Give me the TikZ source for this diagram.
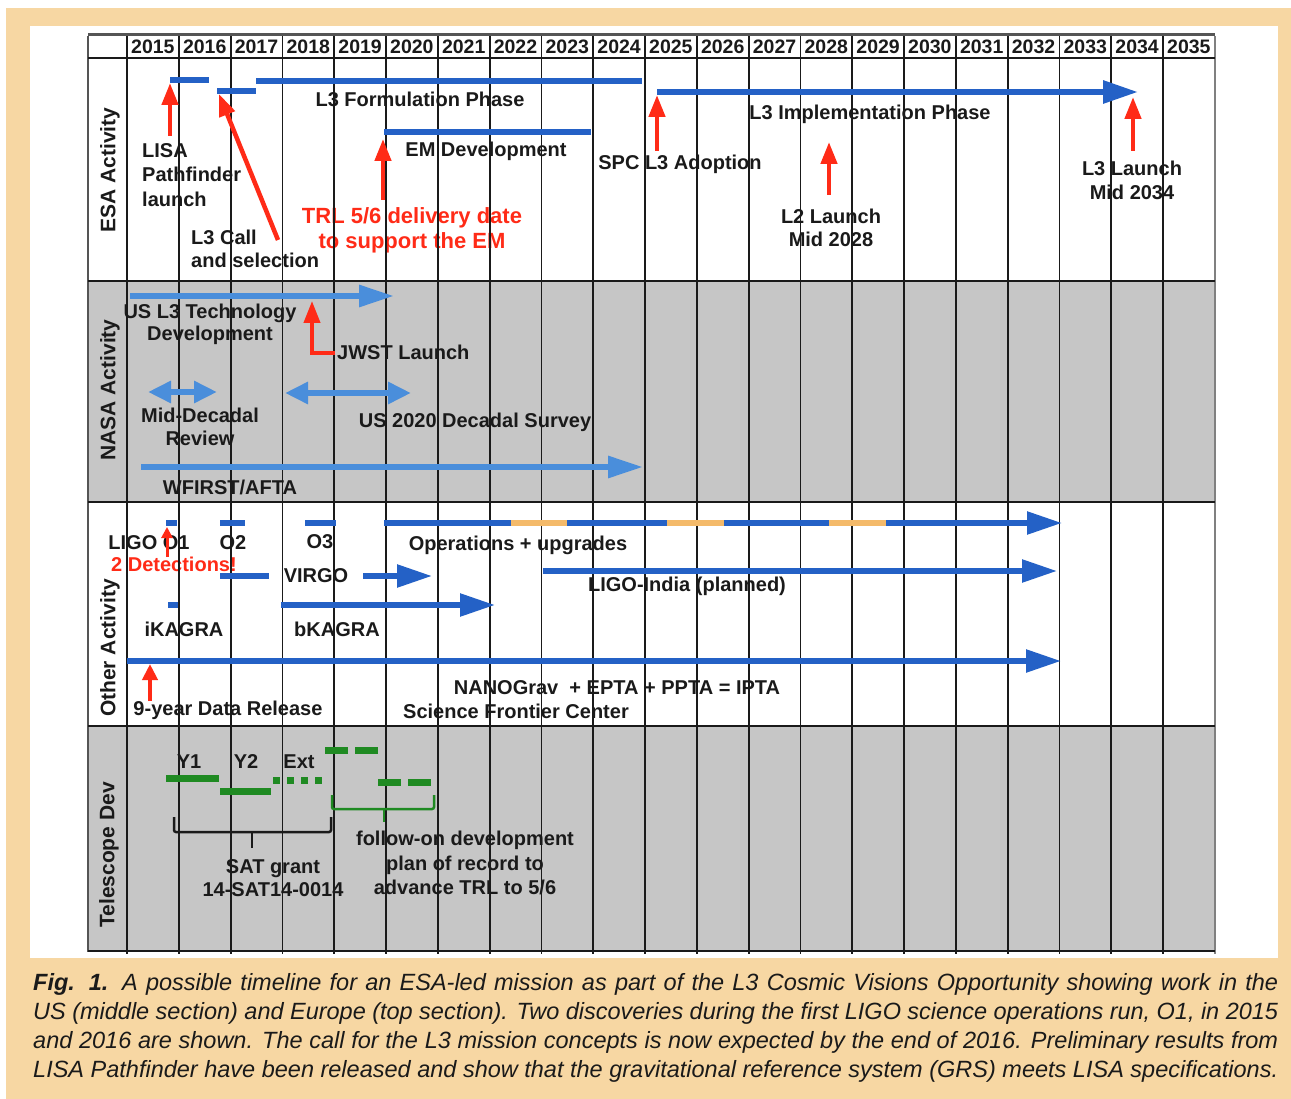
\documentclass[tikz,border=0pt]{standalone}
\usepackage{fontspec}
\setmainfont{Liberation Sans}
\usetikzlibrary{arrows.meta}

\definecolor{peach}{HTML}{F7D7A3}
\definecolor{rowgray}{HTML}{C6C6C6}
\definecolor{esablue}{HTML}{2461C6}
\definecolor{nasablue}{HTML}{4A8EDB}
\definecolor{alertred}{HTML}{FF2B17}
\definecolor{upgrade}{HTML}{F4BA6A}
\definecolor{devgreen}{HTML}{1F8A22}
\definecolor{ink}{HTML}{1A1A1A}
\definecolor{frame}{HTML}{555555}

\begin{document}
\begin{tikzpicture}[x=1pt,y=-1pt,
  lbl/.style={font=\fontsize{20}{24}\selectfont\bfseries, text=ink, inner sep=0pt, align=center},
  redlbl/.style={lbl, text=alertred},
  yearlbl/.style={font=\fontsize{19.5}{22}\selectfont\bfseries, text=ink, inner sep=0pt},
  rowlbl/.style={font=\fontsize{21}{24}\selectfont\bfseries, text=ink, rotate=90, inner sep=0pt},
  gridline/.style={line width=1.8pt, draw=ink},
  rowline/.style={line width=2.4pt, draw=ink},
  bar/.style={line width=5.5pt, draw=esablue},
  bluearrow/.style={bar, -{Triangle[length=35pt,width=22pt]}},
  nbar/.style={line width=6pt, draw=nasablue},
  narrow/.style={nbar, -{Triangle[length=35pt,width=21pt]}},
  ndouble/.style={nbar, {Triangle[length=23pt,width=21pt]}-{Triangle[length=23pt,width=21pt]}},
  redarrow/.style={line width=4.5pt, draw=alertred, -{Triangle[length=22pt,width=16pt]}},
  smallred/.style={line width=3pt, draw=alertred, -{Triangle[length=11pt,width=11pt]}},
  greenbar/.style={line width=7pt, draw=devgreen},
  greendash/.style={greenbar, dash pattern=on 23pt off 7pt},
  greendot/.style={greenbar, dash pattern=on 7pt off 7pt},
  bracket/.style={line width=2.5pt, rounded corners=2pt},
  caption/.style={font=\fontsize{23.5}{29}\selectfont\itshape, text=ink, inner sep=0pt, anchor=base west}
]
\useasboundingbox (0,0) rectangle (1291,1099);

% page and panel
\fill[white] (0,0) rectangle (1291,1099);
\fill[peach] (6,8) rectangle (1291,1099);
\fill[white] (30,26) rectangle (1278,958);

% shaded rows
\fill[rowgray] (88,280) rectangle (1215,502);
\fill[rowgray] (88,726) rectangle (1215,950);

% year header
\foreach \i in {0,...,20} {
  \pgfmathsetmacro\xc{127+51.8*(\i+0.5)}
  \pgfmathtruncatemacro\yr{2015+\i}
  \node[yearlbl] (yr\yr) at (\xc,47) {\yr};
}

% row labels
\node[rowlbl] (esaLbl) at (110,170) {ESA Activity};
\node[rowlbl] (nasaLbl) at (110,390) {NASA Activity};
\node[rowlbl] (otherLbl) at (110,648) {Other Activity};
\node[rowlbl] (teleLbl) at (109,855) {Telescope Dev};

% ESA texts
\node[lbl, align=left, anchor=west, font=\fontsize{20}{24.5}\selectfont\bfseries] (lisaTxt) at (142,175) {LISA\\Pathfinder\\launch};
\node[lbl, align=left, anchor=west, font=\fontsize{20}{23}\selectfont\bfseries] (callTxt) at (191,249) {L3 Call\\and selection};
\node[lbl] (formTxt) at (420,99) {L3 Formulation Phase};
\node[lbl] (emTxt) at (486,151) {EM Development};
\node[redlbl, font=\fontsize{22}{25}\selectfont\bfseries] (trlTxt) at (412,230) {TRL 5/6 delivery date\\to support the EM};
\node[lbl] (spcTxt) at (680,164) {SPC L3 Adoption};
\node[lbl] (implTxt) at (870,114) {L3 Implementation Phase};
\node[lbl, font=\fontsize{20}{23}\selectfont\bfseries] (l2Txt) at (831,228) {L2 Launch\\Mid 2028};
\node[lbl] (l3Txt) at (1132,180) {L3 Launch\\Mid 2034};

% NASA texts
\node[lbl, font=\fontsize{20}{22}\selectfont\bfseries] (usTxt) at (210,324) {US L3 Technology\\Development};
\node[lbl, anchor=west] (jwstTxt) at (337,352) {JWST Launch};
\node[lbl, font=\fontsize{20}{23}\selectfont\bfseries] (midTxt) at (200,427) {Mid-Decadal\\Review};
\node[lbl] (decTxt) at (475,422) {US 2020 Decadal Survey};
\node[lbl] (wfTxt) at (230,487) {WFIRST/AFTA};

% other activity texts
\node[lbl] (ligoTxt) at (149,543) {LIGO O1};
\node[redlbl] (detTxt) at (174,564) {2 Detections!};
\node[lbl] (o2Txt) at (233,543) {O2};
\node[lbl] (o3Txt) at (320,542) {O3};
\node[lbl] (opsTxt) at (518,545) {Operations + upgrades};
\node[lbl] (virgoTxt) at (316,576) {VIRGO};
\node[lbl] (indiaTxt) at (687,586) {LIGO-India (planned)};
\node[lbl] (ikTxt) at (184,629) {iKAGRA};
\node[lbl] (bkTxt) at (337,629) {bKAGRA};
\node[lbl] (nanoTxt) at (617,688) {NANOGrav\ \ + EPTA + PPTA = IPTA};
\node[lbl] (sfcTxt) at (516,711) {Science Frontier Center};
\node[lbl] (nineTxt) at (228,710) {9-year Data Release};

% telescope texts
\node[lbl] (y1Txt) at (189,762) {Y1};
\node[lbl] (y2Txt) at (246,762) {Y2};
\node[lbl] (extTxt) at (299,762) {Ext};
\node[lbl, font=\fontsize{20}{23}\selectfont\bfseries] (satTxt) at (273,878) {SAT grant\\14-SAT14-0014};
\node[lbl, font=\fontsize{20}{24.5}\selectfont\bfseries] (fwdTxt) at (465,863) {follow-on development\\plan of record to\\advance TRL to 5/6};

% grid
\foreach \i in {0,...,20} {
  \draw[gridline] ({127+51.8*\i},58) -- ({127+51.8*\i},954);
  \draw[gridline] ({127+51.8*\i},36) -- ({127+51.8*\i},58);
}
\draw[line width=1.5pt, draw=gray] (1215,36) -- (1215,954);
\draw[line width=2.6pt, draw=frame] (88,36) -- (88,952);
\draw[line width=3pt, draw=frame] (88,35) -- (1215,35);
\draw[rowline] (88,58) -- (1215,58);
\draw[rowline] (88,281) -- (1215,281);
\draw[rowline] (88,502) -- (1215,502);
\draw[rowline] (88,726) -- (1215,726);
\draw[line width=2.8pt, draw=ink] (88,951) -- (1215,951);

% ESA bars
\coordinate (lisaS) at (170,80);   \coordinate (lisaE) at (209,80);
\coordinate (callS) at (217,91);   \coordinate (callE) at (256,91);
\coordinate (formS) at (256,81);   \coordinate (formE) at (642,81);
\coordinate (emS) at (384,132);    \coordinate (emE) at (591,132);
\coordinate (implS) at (657,92);   \coordinate (implE) at (1138,92);
\draw[bar] (lisaS) -- (lisaE);
\draw[bar] (callS) -- (callE);
\draw[bar] (formS) -- (formE);
\draw[bar] (emS) -- (emE);
\draw[bluearrow, line width=6pt] (implS) -- (implE);

% ESA milestones
\coordinate (lisaT) at (170,136);  \coordinate (lisaH) at (170,83);
\coordinate (callT) at (278,240);  \coordinate (callH) at (219,94);
\coordinate (trlT) at (383,200);   \coordinate (trlH) at (383,139);
\coordinate (adoT) at (657,151);   \coordinate (adoH) at (657,95);
\coordinate (l2T) at (829,195);    \coordinate (l2H) at (829,142);
\coordinate (l3T) at (1133,151);   \coordinate (l3H) at (1133,97);
\draw[redarrow] (lisaT) -- (lisaH);
\draw[redarrow] (callT) -- (callH);
\draw[redarrow] (trlT) -- (trlH);
\draw[redarrow] (adoT) -- (adoH);
\draw[redarrow] (l2T) -- (l2H);
\draw[redarrow] (l3T) -- (l3H);

% NASA arrows
\coordinate (usS) at (130,296);    \coordinate (usE) at (394,296);
\coordinate (midS) at (148,392);   \coordinate (midE) at (217,392);
\coordinate (decS) at (285,393);   \coordinate (decE) at (411,393);
\coordinate (wfS) at (141,467);    \coordinate (wfE) at (643,467);
\draw[narrow] (usS) -- (usE);
\draw[ndouble] (midS) -- (midE);
\draw[ndouble] (decS) -- (decE);
\draw[narrow] (wfS) -- (wfE);
\coordinate (jwstT) at (335,353);  \coordinate (jwstK) at (312,353);  \coordinate (jwstH) at (312,301);
\draw[redarrow, line width=4pt] (jwstT) -- (jwstK) -- (jwstH);

% other activity bars
\coordinate (o1S) at (166,523);    \coordinate (o1E) at (177,523);
\coordinate (o2S) at (220,523);    \coordinate (o2E) at (245,523);
\coordinate (o3S) at (305,523);    \coordinate (o3E) at (336,523);
\coordinate (opsS) at (384,523);   \coordinate (opsE) at (1062,523);
\coordinate (up1S) at (511,523);   \coordinate (up1E) at (567,523);
\coordinate (up2S) at (667,523);   \coordinate (up2E) at (724,523);
\coordinate (up3S) at (829,523);   \coordinate (up3E) at (886,523);
\draw[bar] (o1S) -- (o1E);
\draw[bar] (o2S) -- (o2E);
\draw[bar] (o3S) -- (o3E);
\draw[bluearrow] (opsS) -- (opsE);
\draw[line width=5.5pt, draw=upgrade] (up1S) -- (up1E);
\draw[line width=5.5pt, draw=upgrade] (up2S) -- (up2E);
\draw[line width=5.5pt, draw=upgrade] (up3S) -- (up3E);

\coordinate (virS) at (220,576);   \coordinate (virE) at (269,576);
\coordinate (vaS) at (363,576);    \coordinate (vaE) at (432,576);
\coordinate (indS) at (543,571);   \coordinate (indE) at (1057,571);
\coordinate (ikS) at (168,605);    \coordinate (ikE) at (178,605);
\coordinate (bkS) at (281,605);    \coordinate (bkE) at (495,605);
\coordinate (ptaS) at (127,661);   \coordinate (ptaE) at (1061,661);
\draw[bar] (virS) -- (virE);
\draw[bluearrow] (vaS) -- (vaE);
\draw[bluearrow] (indS) -- (indE);
\draw[bar] (ikS) -- (ikE);
\draw[bluearrow] (bkS) -- (bkE);
\draw[bluearrow] (ptaS) -- (ptaE);

\coordinate (detT) at (167,557);   \coordinate (detH) at (167,527);
\coordinate (nineT) at (150,701);  \coordinate (nineH) at (150,664);
\draw[smallred] (detT) -- (detH);
\draw[redarrow, -{Triangle[length=16pt,width=15pt]}] (nineT) -- (nineH);

% telescope development schedule
\coordinate (y1S) at (166,778);    \coordinate (y1E) at (219,778);
\coordinate (y2S) at (220,791);    \coordinate (y2E) at (271,791);
\coordinate (exS) at (273,780);    \coordinate (exE) at (323,780);
\coordinate (fuS) at (325,750);    \coordinate (fuE) at (378,750);
\coordinate (flS) at (378,782);    \coordinate (flE) at (431,782);
\draw[greenbar] (y1S) -- (y1E);
\draw[greenbar] (y2S) -- (y2E);
\draw[greendot] (exS) -- (exE);
\draw[greendash] (fuS) -- (fuE);
\draw[greendash] (flS) -- (flE);

\coordinate (gbL) at (332,795);    \coordinate (gbR) at (434,795);
\coordinate (gbM) at (384,809);    \coordinate (gbTip) at (384,822);
\draw[bracket, draw=devgreen] (gbL) |- (gbM) -| (gbR);
\draw[line width=2.5pt, draw=devgreen] (gbM) -- (gbTip);

\coordinate (kbL) at (174,817);    \coordinate (kbR) at (331,817);
\coordinate (kbM) at (252,832);    \coordinate (kbTip) at (252,848);
\draw[bracket, draw=ink] (kbL) |- (kbM) -| (kbR);
\draw[line width=2.5pt, draw=ink] (kbM) -- (kbTip);

% caption
\node[caption] (cap1) at (33,990) {\makebox[1245pt][s]{\textbf{Fig. 1.} A possible timeline for an ESA-led mission as part of the L3 Cosmic Visions Opportunity showing work in the}};
\node[caption] (cap2) at (33,1019) {\makebox[1245pt][s]{US (middle section) and Europe (top section). Two discoveries during the first LIGO science operations run, O1, in 2015}};
\node[caption] (cap3) at (33,1048) {\makebox[1245pt][s]{and 2016 are shown. The call for the L3 mission concepts is now expected by the end of 2016. Preliminary results from}};
\node[caption] (cap4) at (33,1077) {\makebox[1245pt][s]{LISA Pathfinder have been released and show that the gravitational reference system (GRS) meets LISA specifications.}};
\end{tikzpicture}
\end{document}
